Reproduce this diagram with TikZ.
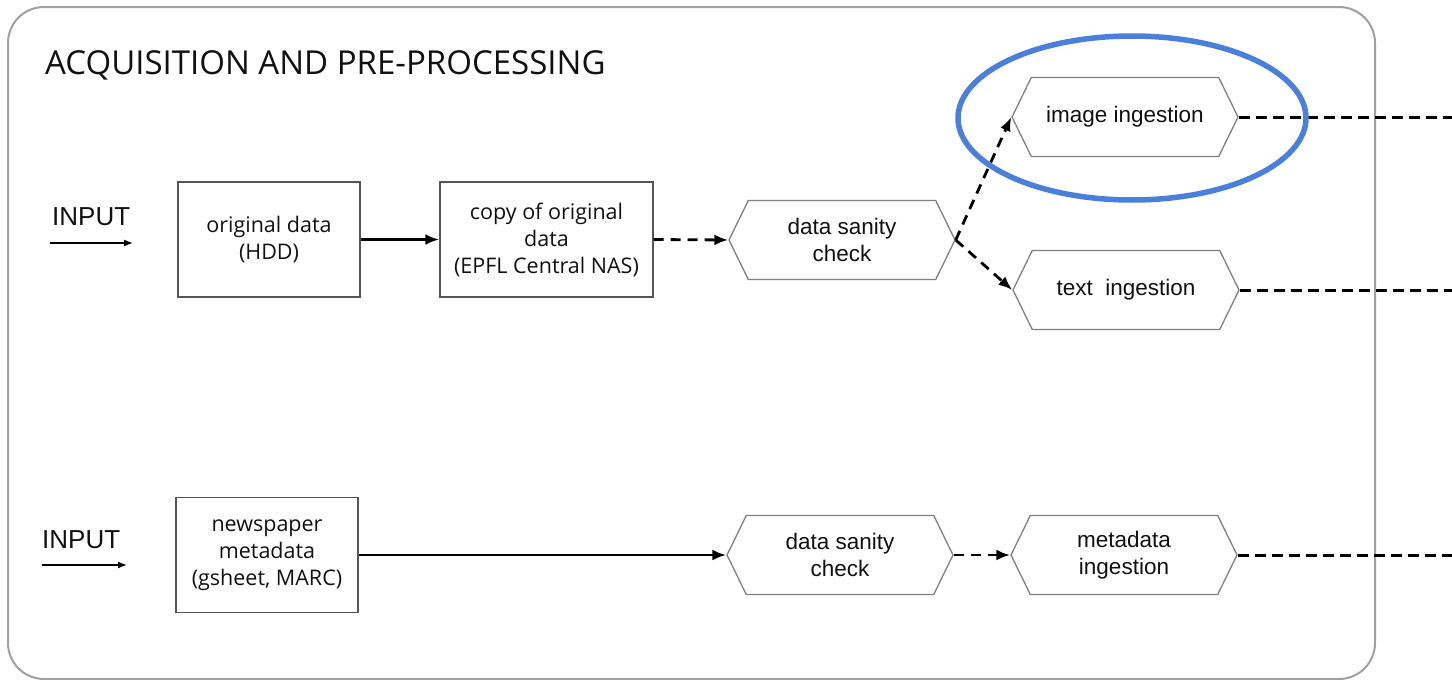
\documentclass[tikz,border=0pt]{standalone}
\usepackage{fontspec}
\setmainfont{Liberation Sans}
\newfontfamily\opensans{Open Sans}
\usetikzlibrary{arrows.meta,shapes.symbols,shapes.geometric}
\definecolor{frame}{HTML}{A0A0A0}
\definecolor{boxline}{HTML}{555555}
\definecolor{hexline}{HTML}{808080}
\definecolor{ovalblue}{HTML}{4A7FDC}
\definecolor{ink}{HTML}{111111}
\tikzset{
  procbox/.style={draw=boxline,line width=1.4pt,minimum width=182pt,minimum height=115pt,
    align=center,font=\opensans\fontsize{21.5}{27}\selectfont,text=ink,inner sep=0pt},
  hexbox/.style={signal,signal to=east and west,signal pointer angle=128,draw=hexline,line width=1.3pt,
    minimum width=226pt,minimum height=79pt,align=center,inner sep=0pt,
    font=\fontsize{22.5}{27}\selectfont,text=ink},
  solidarr/.style={line width=2.8pt,-{Latex[length=14pt,width=11pt]}},
  dasharr/.style={line width=2.8pt,dash pattern=on 10pt off 7pt,-{Latex[length=14pt,width=11pt]}},
  dashline/.style={line width=3pt,dash pattern=on 11pt off 6pt},
  inarr/.style={line width=1.4pt,-{Latex[length=9pt,width=7pt]}},
  inlabel/.style={font=\fontsize{26}{30}\selectfont,text=ink,inner sep=0pt},
}
\begin{document}
\begin{tikzpicture}[x=1pt,y=-1pt]
\useasboundingbox (0,0) rectangle (1452,680);
% frame
\draw[frame,line width=2pt,rounded corners=36pt] (8,7) rectangle (1375,679);
\node[anchor=base west,inner sep=0pt,font=\opensans\fontsize{33}{40}\selectfont,text=ink] (title) at (45,74) {ACQUISITION AND PRE-PROCESSING};
% top row
\node[inlabel,anchor=base west] (in1) at (52,225) {INPUT};
\coordinate (in1s) at (50,243);
\coordinate (in1e) at (133,243);
\draw[inarr] (in1s) -- (in1e);
\node[procbox] (orig) at (269,239.5) {original data\\(HDD)};
\node[procbox,minimum width=213pt] (copy) at (546.5,239.5) {copy of original\\data\\(EPFL Central NAS)};
\node[hexbox] (check1) at (842,240) {data sanity\\check};
\node[hexbox] (img) at (1125,117) {image ingestion};
\node[hexbox] (txt) at (1126,290) {text\ \ ingestion};
\draw[solidarr] (orig.east) -- (copy.east -| copy.west);
\draw[dasharr] (copy.east) -- (check1.west);
\draw[dasharr] (check1.east) -- (img.west);
\draw[dasharr] (check1.east) -- (txt.west);
\coordinate (imgout) at (1452,117);
\coordinate (txtout) at (1452,290);
\draw[dashline] (img.east) -- (imgout);
\draw[dashline] (txt.east) -- (txtout);
% highlight
\node[draw=ovalblue,line width=5.5pt,ellipse,minimum width=348pt,minimum height=164pt] (hl) at (1132,118) {};
% bottom row
\node[inlabel,anchor=base west] (in2) at (42,548) {INPUT};
\coordinate (in2s) at (42,565);
\coordinate (in2e) at (127,565);
\draw[inarr] (in2s) -- (in2e);
\node[procbox] (news) at (267,555) {newspaper\\metadata\\(gsheet, MARC)};
\node[hexbox] (check2) at (840,555) {data sanity\\check};
\node[hexbox] (meta) at (1124,555) {metadata\\ingestion};
\draw[solidarr] (news.east) -- (check2.west);
\draw[dasharr] (check2.east) -- (meta.west);
\coordinate (metaout) at (1452,555);
\draw[dashline] (meta.east) -- (metaout);
\end{tikzpicture}
\end{document}
